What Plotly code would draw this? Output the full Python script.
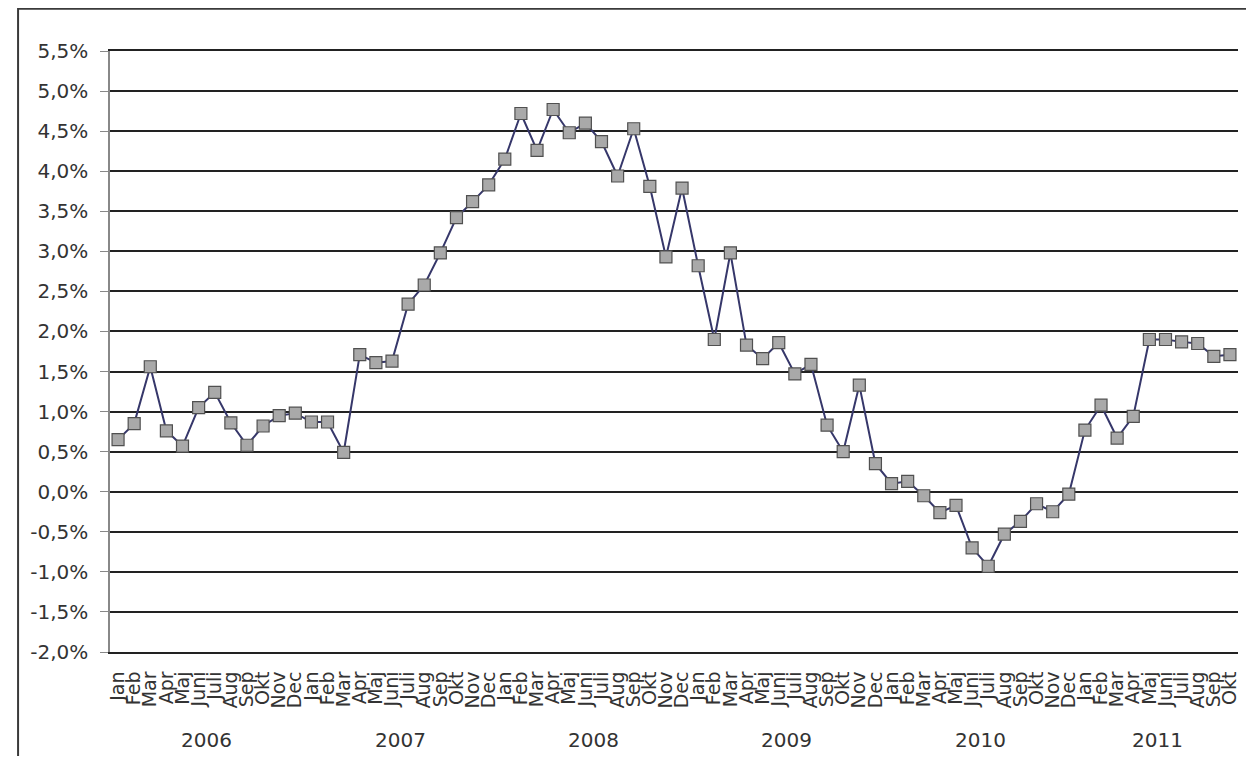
import plotly.graph_objects as go

months = ["Jan", "Feb", "Mar", "Apr", "Maj", "Juni", "Juli", "Aug", "Sep", "Okt", "Nov", "Dec"]
years = ["2006", "2007", "2008", "2009", "2010", "2011"]
months_in_last_year = 10

month_labels = months * 5 + months[:months_in_last_year]
year_of_point = [y for y in years[:-1] for _ in months] + [years[-1]] * months_in_last_year

values = [
    0.65, 0.85, 1.56, 0.76, 0.57, 1.05, 1.24, 0.86, 0.58, 0.82, 0.95, 0.98,   # 2006
    0.87, 0.87, 0.49, 1.71, 1.61, 1.63, 2.34, 2.58, 2.98, 3.42, 3.62, 3.83,   # 2007
    4.15, 4.72, 4.26, 4.77, 4.48, 4.60, 4.37, 3.94, 4.53, 3.81, 2.93, 3.79,   # 2008
    2.82, 1.90, 2.98, 1.83, 1.66, 1.86, 1.47, 1.59, 0.83, 0.50, 1.33, 0.35,   # 2009
    0.10, 0.13, -0.05, -0.26, -0.17, -0.70, -0.93, -0.53, -0.37, -0.15, -0.25, -0.03,  # 2010
    0.77, 1.08, 0.67, 0.94, 1.90, 1.90, 1.87, 1.85, 1.69, 1.71,               # 2011
]

y_tick_vals = [-2.0, -1.5, -1.0, -0.5, 0.0, 0.5, 1.0, 1.5, 2.0, 2.5, 3.0, 3.5, 4.0, 4.5, 5.0, 5.5]
y_tick_text = ["-2,0%", "-1,5%", "-1,0%", "-0,5%", "0,0%", "0,5%", "1,0%", "1,5%",
               "2,0%", "2,5%", "3,0%", "3,5%", "4,0%", "4,5%", "5,0%", "5,5%"]

x_idx = list(range(len(values)))

fig = go.Figure()
fig.add_trace(go.Scatter(
    x=x_idx, y=values, mode="lines+markers",
    line=dict(color="#36376a", width=2),
    marker=dict(symbol="square", size=12, color="#a9a9a9",
                line=dict(color="#505050", width=1.2)),
    showlegend=False, hoverinfo="skip",
))

FONT = "DejaVu Sans"

# year labels centred under their month groups
for yr in years:
    idxs = [i for i, y in enumerate(year_of_point) if y == yr]
    fig.add_annotation(
        x=sum(idxs) / len(idxs), y=-0.146, xref="x", yref="paper",
        text=yr, showarrow=False, yanchor="middle",
        font=dict(family=FONT, size=20, color="#333333"),
    )

# outer frame (only top and left visible)
fig.add_shape(type="rect", xref="paper", yref="paper",
              x0=-0.0815, x1=1.3, y0=-0.5, y1=1.0705,
              line=dict(color="#3a3a3a", width=2), layer="below")

fig.update_layout(
    width=1238, height=748,
    margin=dict(l=102, r=6, t=43, b=104),
    paper_bgcolor="white", plot_bgcolor="white",
    font=dict(family=FONT, color="#333333"),
)
fig.update_xaxes(
    range=[-0.5, len(values) - 0.5],
    tickmode="array", tickvals=x_idx, ticktext=month_labels,
    tickangle=-90, tickfont=dict(family=FONT, size=19, color="#333333"),
    showgrid=False, zeroline=False,
    showline=True, mirror=True, linecolor="#222222", linewidth=1.8,
    ticks="outside", ticklen=10, tickcolor="rgba(0,0,0,0)",
)
fig.update_yaxes(
    range=[-2.0, 5.5],
    tickmode="array", tickvals=y_tick_vals, ticktext=y_tick_text,
    tickfont=dict(family=FONT, size=20, color="#333333"),
    showgrid=True, gridcolor="#222222", gridwidth=1.8,
    zeroline=False, showline=True, linecolor="#888888", linewidth=1.5,
    ticks="outside", ticklen=8, tickcolor="#888888", ticklabelstandoff=8,
)

fig.write_html("out.html")
